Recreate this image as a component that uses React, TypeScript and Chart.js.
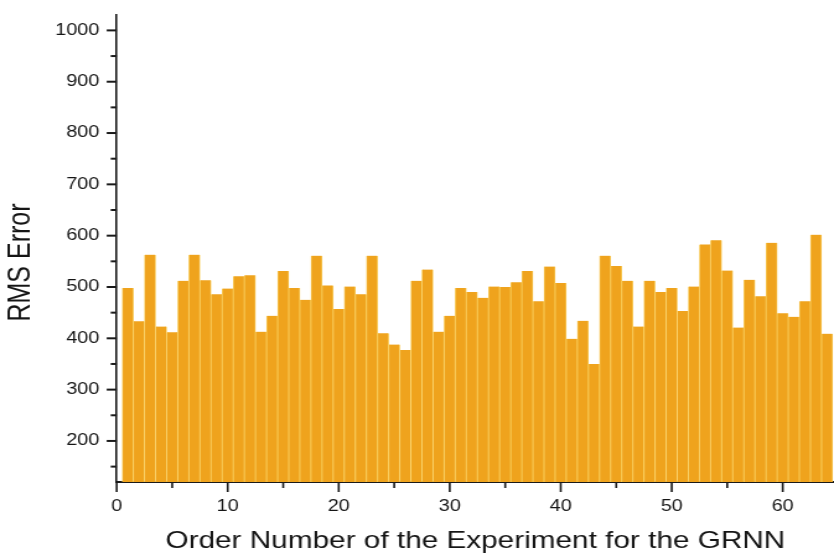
import React, { useEffect, useRef } from "react";
import { Chart, registerables } from "chart.js";

Chart.register(...registerables);

const orderNumbers = [
  1, 2, 3, 4, 5, 6, 7, 8, 9, 10, 11, 12, 13, 14, 15, 16, 17, 18, 19, 20, 21, 22,
  23, 24, 25, 26, 27, 28, 29, 30, 31, 32, 33, 34, 35, 36, 37, 38, 39, 40, 41, 42,
  43, 44, 45, 46, 47, 48, 49, 50, 51, 52, 53, 54, 55, 56, 57, 58, 59, 60, 61, 62,
  63, 64,
];

const rmsError = [
  498, 433, 563, 423, 412, 512, 563, 513, 486, 497, 521, 523, 413, 444, 531, 498,
  475, 561, 503, 457, 501, 486, 561, 410, 388, 377, 512, 534, 413, 444, 498, 490,
  479, 501, 500, 509, 531, 472, 540, 508, 399, 434, 350, 561, 541, 512, 423, 512,
  490, 498, 453, 501, 583, 591, 532, 421, 514, 482, 586, 449, 442, 472, 602, 409,
];

const xTickValues = [0, 10, 20, 30, 40, 50, 60];
const xMinorTickValues = [5, 15, 25, 35, 45, 55];
const yTickValues = [200, 300, 400, 500, 600, 700, 800, 900, 1000];
const yMinorTickValues = [150, 250, 350, 450, 550, 650, 750, 850, 950];

const xTitle = "Order Number of the Experiment for the GRNN";
const yTitle = "RMS Error";

const DISPLAY_W = 834;
const DISPLAY_H = 553;
const INNER_W = 673; // drawn narrower, shown stretched like the reference
const SX = DISPLAY_W / INNER_W;

const FONT = "'Liberation Sans', Arial, sans-serif";
const TEXT = "#151515";
const AXIS = "#1a1a1a";

const tickPlugin = {
  id: "customTicks",
  afterDraw(chart: any) {
    const { ctx, chartArea } = chart;
    const xs = chart.scales.x;
    const ys = chart.scales.y;
    ctx.save();
    ctx.strokeStyle = AXIS;
    ctx.lineWidth = 2 / SX;
    const drawX = (vals: number[], len: number) => {
      vals.forEach((v) => {
        const px = xs.getPixelForValue(v);
        ctx.beginPath();
        ctx.moveTo(px, chartArea.bottom);
        ctx.lineTo(px, chartArea.bottom + len);
        ctx.stroke();
      });
    };
    drawX(xTickValues, 10);
    drawX(xMinorTickValues, 6);
    ctx.lineWidth = 2;
    const drawY = (vals: number[], len: number) => {
      vals.forEach((v) => {
        const py = ys.getPixelForValue(v);
        ctx.beginPath();
        ctx.moveTo(chartArea.left, py);
        ctx.lineTo(chartArea.left - len, py);
        ctx.stroke();
      });
    };
    drawY(yTickValues, 10 / SX);
    drawY(yMinorTickValues, 6 / SX);
    ctx.fillStyle = TEXT;
    ctx.font = `25px ${FONT}`;
    ctx.textAlign = "center";
    ctx.textBaseline = "middle";
    ctx.translate(21 / SX, 262.5);
    ctx.rotate(-Math.PI / 2);
    ctx.fillText(yTitle, 0, 0);
    ctx.restore();
  },
};

export default function App() {
  const ref = useRef<HTMLCanvasElement | null>(null);

  useEffect(() => {
    if (!ref.current) return;
    const chart = new Chart(ref.current, {
      type: "bar",
      data: {
        datasets: [
          {
            label: yTitle,
            data: orderNumbers.map((n, i) => ({ x: n, y: rmsError[i] })),
            backgroundColor: "#EFA31D",
            borderColor: "#F9CF5E",
            borderWidth: { left: 0.8, right: 0.8, top: 0, bottom: 0 },
            borderSkipped: false,
            barPercentage: 1,
            categoryPercentage: 1,
          },
        ],
      },
      options: {
        responsive: false,
        animation: false,
        devicePixelRatio: 1,
        layout: { padding: { top: 15, left: 0, right: 0, bottom: 0 } },
        plugins: {
          legend: { display: false },
          tooltip: { enabled: false },
        },
        scales: {
          x: {
            type: "linear",
            offset: false,
            min: 0,
            max: 64.62,
            afterBuildTicks: (scale: any) => {
              scale.ticks = xTickValues.map((v) => ({ value: v }));
            },
            afterFit: (scale: any) => {
              scale.height = DISPLAY_H - 482;
              scale.paddingLeft = 0;
              scale.paddingRight = 0;
            },
            grid: { display: false, drawTicks: false },
            border: { display: true, color: AXIS, width: 2 },
            ticks: {
              autoSkip: false,
              maxRotation: 0,
              padding: 15,
              color: TEXT,
              font: { family: FONT, size: 16 },
              callback: (v: any) => String(v),
            },
            title: {
              display: true,
              text: xTitle,
              color: TEXT,
              font: { family: FONT, size: 24, lineHeight: 1 },
              padding: { top: 0, bottom: 0 },
            },
          },
          y: {
            min: 120,
            max: 1030,
            afterBuildTicks: (scale: any) => {
              scale.ticks = yTickValues.map((v) => ({ value: v }));
            },
            afterFit: (scale: any) => {
              scale.width = 116.7 / SX;
              scale.paddingTop = 0;
              scale.paddingBottom = 0;
            },
            grid: { display: false, drawTicks: false },
            border: { display: true, color: AXIS, width: 2 / SX },
            ticks: {
              autoSkip: false,
              padding: 14,
              color: TEXT,
              font: { family: FONT, size: 16 },
              callback: (v: any) => String(v),
            },
          },
        },
      },
      plugins: [tickPlugin],
    });
    return () => chart.destroy();
  }, []);

  return (
    <div
      style={{
        position: "absolute",
        left: 0,
        top: 0,
        width: DISPLAY_W,
        height: DISPLAY_H,
        background: "#ffffff",
      }}
    >
      <canvas
        ref={ref}
        width={INNER_W}
        height={DISPLAY_H}
        style={{ width: `${DISPLAY_W}px`, height: `${DISPLAY_H}px`, display: "block" }}
      />
    </div>
  );
}
